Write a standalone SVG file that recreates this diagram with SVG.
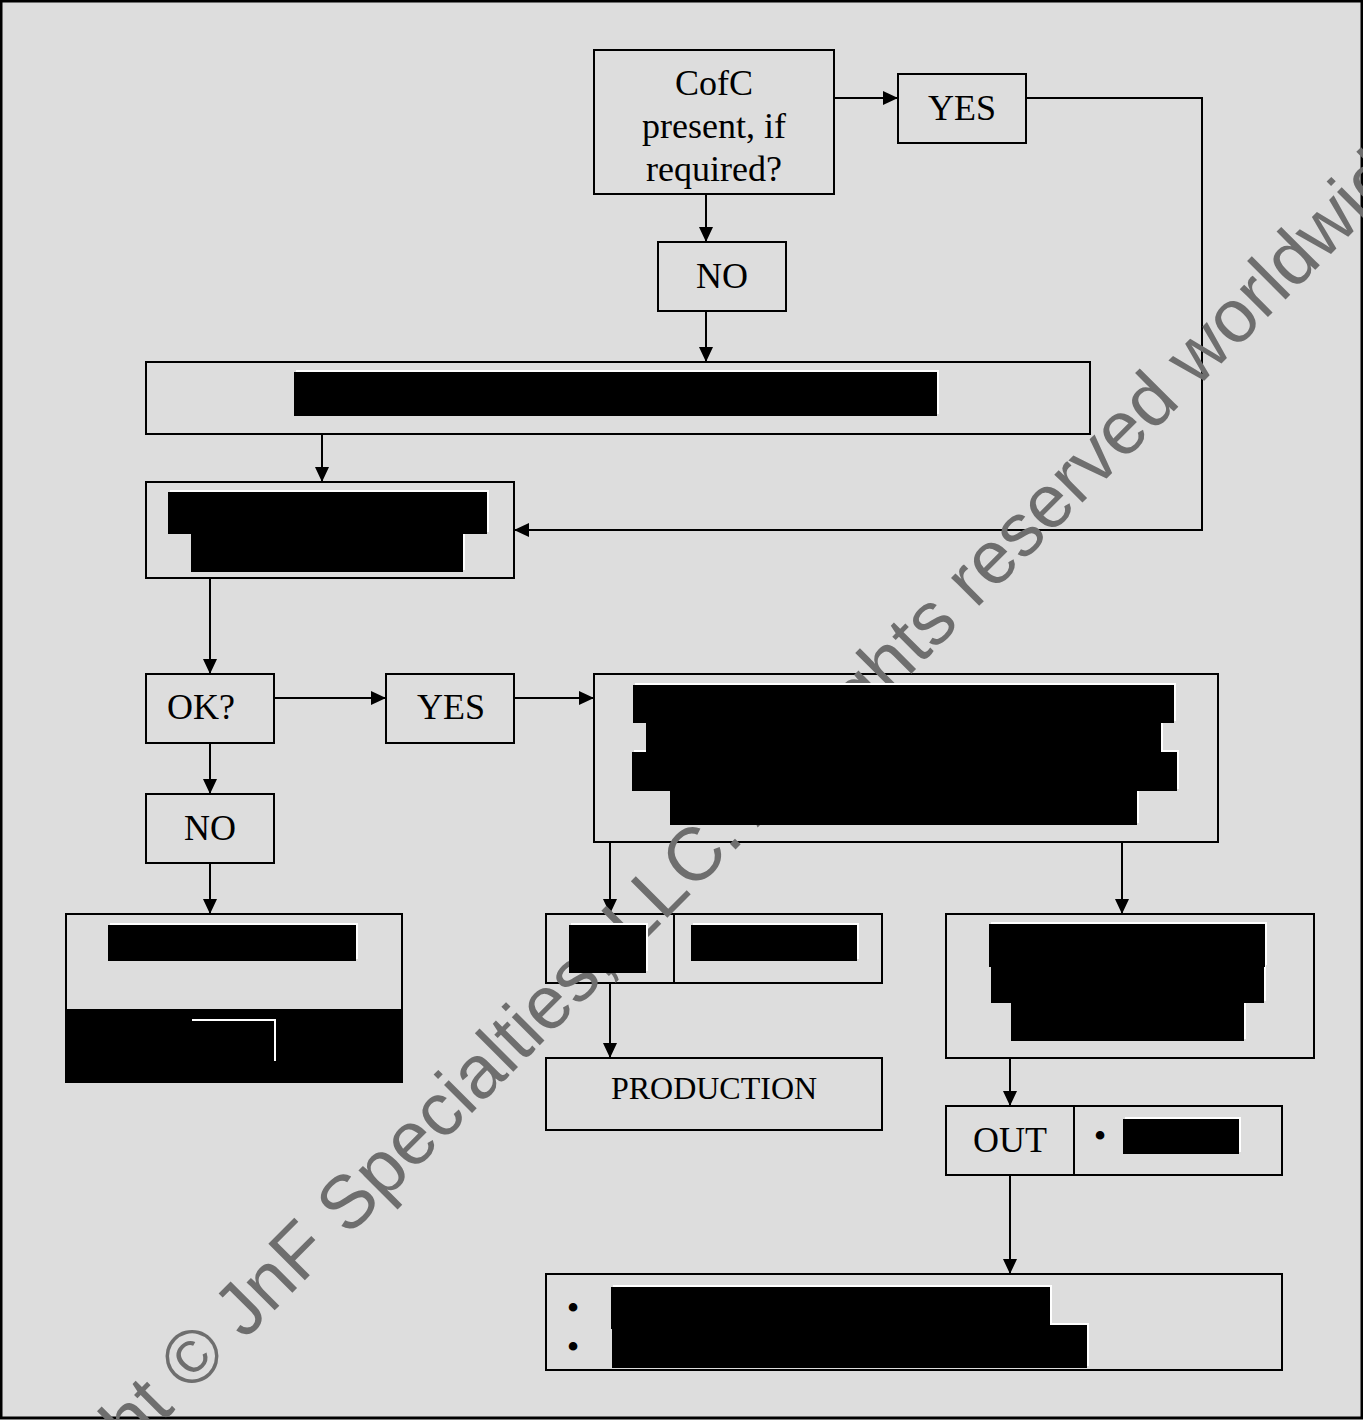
<svg xmlns="http://www.w3.org/2000/svg" width="1363" height="1420" viewBox="0 0 1363 1420">
<style>
.bx{fill:none;stroke:#000;stroke-width:2}
.ln{fill:none;stroke:#000;stroke-width:2}
.lb{font-family:"Liberation Serif","Times New Roman",serif;font-size:36px;fill:#000;text-anchor:middle}
.sm{font-size:32px}
.hl{fill:#fff}
.rd{fill:#000}
.wm{font-family:"Liberation Sans",Arial,sans-serif;font-size:75px;fill:#6e6e6e}
</style>
<defs>
<marker id="ah" markerUnits="userSpaceOnUse" markerWidth="15" markerHeight="14" refX="15" refY="7" orient="auto">
<path d="M0,0 L15,7 L0,14 z" fill="#000"/>
</marker>
</defs>
<rect x="1" y="1" width="1361" height="1417" fill="#dddddd" stroke="#000" stroke-width="3"/>

<g id="cofc"><rect class="bx" x="594" y="50" width="240" height="144"/>
<text class="lb" x="714" y="95">CofC</text>
<text class="lb" x="714" y="138">present, if</text>
<text class="lb" x="714" y="181">required?</text></g>
<g id="yes1"><rect class="bx" x="898" y="74" width="128" height="69"/><text class="lb" x="962" y="120">YES</text></g>
<g id="no1"><rect class="bx" x="658" y="242" width="128" height="69"/><text class="lb" x="722" y="288">NO</text></g>
<g id="box1"><rect class="bx" x="146" y="362" width="944" height="72"/></g>
<g id="box2"><rect class="bx" x="146" y="482" width="368" height="96"/></g>
<g id="ok"><rect class="bx" x="146" y="674" width="128" height="69"/><text class="lb" x="201" y="719">OK?</text></g>
<g id="yes2"><rect class="bx" x="386" y="674" width="128" height="69"/><text class="lb" x="451" y="719">YES</text></g>
<g id="no2"><rect class="bx" x="146" y="794" width="128" height="69"/><text class="lb" x="210" y="840">NO</text></g>
<g id="big"><rect class="bx" x="594" y="674" width="624" height="168"/></g>
<g id="leftbox"><rect class="bx" x="66" y="914" width="336" height="168"/></g>
<g id="split"><rect class="bx" x="546" y="914" width="336" height="69"/><line class="ln" x1="674" y1="914" x2="674" y2="983"/></g>
<g id="production"><rect class="bx" x="546" y="1058" width="336" height="72"/><text class="lb sm" x="714" y="1099">PRODUCTION</text></g>
<g id="rightbox"><rect class="bx" x="946" y="914" width="368" height="144"/></g>
<g id="out"><rect class="bx" x="946" y="1106" width="336" height="69"/><line class="ln" x1="1074" y1="1106" x2="1074" y2="1175"/>
<text class="lb" x="1010" y="1152">OUT</text><text class="lb" x="1100" y="1148">•</text></g>
<g id="bottom"><rect class="bx" x="546" y="1274" width="736" height="96"/>
<text class="lb" x="573" y="1320">•</text><text class="lb" x="573" y="1359">•</text></g>

<g id="connectors">
<path class="ln" d="M834,98 H898" marker-end="url(#ah)"/>
<path class="ln" d="M706,194 V242" marker-end="url(#ah)"/>
<path class="ln" d="M706,311 V362" marker-end="url(#ah)"/>
<path class="ln" d="M1026,98 H1202 V530 H514" marker-end="url(#ah)"/>
<path class="ln" d="M322,434 V482" marker-end="url(#ah)"/>
<path class="ln" d="M210,578 V674" marker-end="url(#ah)"/>
<path class="ln" d="M274,698 H386" marker-end="url(#ah)"/>
<path class="ln" d="M514,698 H594" marker-end="url(#ah)"/>
<path class="ln" d="M210,743 V794" marker-end="url(#ah)"/>
<path class="ln" d="M210,863 V914" marker-end="url(#ah)"/>
<path class="ln" d="M610,842 V914" marker-end="url(#ah)"/>
<path class="ln" d="M1122,842 V914" marker-end="url(#ah)"/>
<path class="ln" d="M610,983 V1058" marker-end="url(#ah)"/>
<path class="ln" d="M1010,1058 V1106" marker-end="url(#ah)"/>
<path class="ln" d="M1010,1175 V1274" marker-end="url(#ah)"/>
</g>

<text class="wm" transform="translate(-51,1636) rotate(-45)">Copyright © JnF Specialties, LLC. All rights reserved worldwide</text>

<g id="redactions">
<g id="r-box1"><rect class="hl" x="296" y="370" width="643" height="44"/><rect class="rd" x="294" y="372" width="643" height="44"/></g>
<g id="r-box2">
<rect class="hl" x="170" y="490" width="319" height="42"/><rect class="hl" x="193" y="532" width="272" height="38"/>
<rect class="rd" x="168" y="492" width="319" height="42"/><rect class="rd" x="191" y="534" width="272" height="38"/></g>
<g id="r-big">
<rect class="hl" x="635" y="683" width="541" height="38"/><rect class="hl" x="648" y="721" width="515" height="29"/>
<rect class="hl" x="634" y="750" width="545" height="39"/><rect class="hl" x="672" y="789" width="467" height="34"/>
<rect class="rd" x="633" y="685" width="541" height="38"/><rect class="rd" x="646" y="723" width="515" height="29"/>
<rect class="rd" x="632" y="752" width="545" height="39"/><rect class="rd" x="670" y="791" width="467" height="34"/></g>
<g id="r-leftbox">
<rect class="hl" x="110" y="923" width="248" height="36"/><rect class="rd" x="108" y="925" width="248" height="36"/>
<rect class="rd" x="65" y="1009" width="338" height="74"/>
<rect class="hl" x="192" y="1019" width="84" height="42"/><rect class="rd" x="190" y="1021" width="84" height="42"/></g>
<g id="r-split">
<rect class="hl" x="571" y="923" width="77" height="48"/><rect class="rd" x="569" y="925" width="77" height="48"/>
<rect class="hl" x="693" y="923" width="166" height="36"/><rect class="rd" x="691" y="925" width="166" height="36"/></g>
<g id="r-rightbox">
<rect class="hl" x="991" y="922" width="276" height="43"/><rect class="hl" x="993" y="965" width="273" height="36"/><rect class="hl" x="1013" y="1001" width="233" height="38"/>
<rect class="rd" x="989" y="924" width="276" height="43"/><rect class="rd" x="991" y="967" width="273" height="36"/><rect class="rd" x="1011" y="1003" width="233" height="38"/></g>
<g id="r-out"><rect class="hl" x="1125" y="1117" width="116" height="35"/><rect class="rd" x="1123" y="1119" width="116" height="35"/></g>
<g id="r-bottom">
<rect class="hl" x="613" y="1285" width="439" height="42"/><rect class="hl" x="614" y="1323" width="475" height="43"/>
<rect class="rd" x="611" y="1287" width="439" height="42"/><rect class="rd" x="612" y="1325" width="475" height="43"/></g>
</g>
</svg>
